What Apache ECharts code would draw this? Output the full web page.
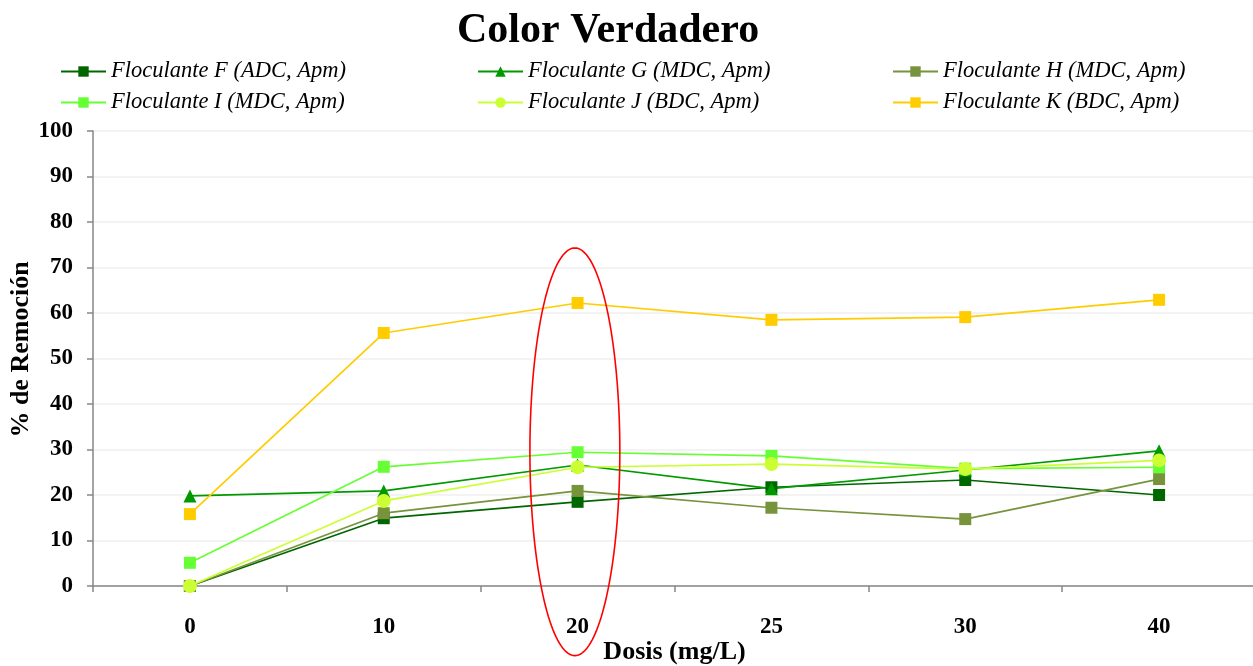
<!DOCTYPE html>
<html>
<head>
<meta charset="utf-8">
<script src="https://cdn.jsdelivr.net/npm/echarts@6/dist/echarts.min.js"></script>
<style>
  html, body { margin: 0; padding: 0; background: #fff; }
  #chart { width: 1253px; height: 666px; }
</style>
</head>
<body>
<div id="chart"></div>
<script>
// Dosis (mg/L)
const dosis = ['0', '10', '20', '25', '30', '40'];

// % de remoción de color verdadero por floculante
const flocF = [0, 14.9, 18.5, 21.7, 23.3, 20.0];
const flocG = [19.8, 20.9, 26.6, 21.4, 25.5, 29.7];
const flocH = [0, 16.0, 20.9, 17.2, 14.7, 23.5];
const flocI = [5.1, 26.2, 29.4, 28.6, 25.8, 26.1];
const flocJ = [0, 18.7, 26.1, 26.8, 25.7, 27.6];
const flocK = [15.8, 55.6, 62.2, 58.5, 59.1, 62.9];

const yTicks = [0, 10, 20, 30, 40, 50, 60, 70, 80, 90, 100];

const serif = '"Liberation Serif", "Times New Roman", serif';

function makeSeries(name, data, color, symbol, size) {
  return {
    name: name,
    type: 'line',
    data: data,
    symbol: symbol,
    symbolSize: size,
    showSymbol: true,
    lineStyle: { color: color, width: 1.7 },
    itemStyle: { color: color },
    emphasis: { disabled: true },
    z: 3
  };
}

const series = [
  makeSeries('Floculante F (ADC, Apm)', flocF, '#006600', 'rect', 12),
  makeSeries('Floculante G (MDC, Apm)', flocG, '#009900', 'triangle', 13),
  makeSeries('Floculante H (MDC, Apm)', flocH, '#77933C', 'rect', 12),
  makeSeries('Floculante I (MDC, Apm)', flocI, '#66FF33', 'rect', 12),
  makeSeries('Floculante J (BDC, Apm)', flocJ, '#CCFF33', 'circle', 14),
  makeSeries('Floculante K (BDC, Apm)', flocK, '#FFCC00', 'rect', 12)
];

function legendColumn(left, names) {
  return {
    data: names,
    left: left,
    top: 60,
    padding: 0,
    orient: 'vertical',
    itemWidth: 45,
    itemHeight: 13,
    itemGap: 8,
    selectedMode: false,
    textStyle: {
      fontFamily: serif,
      fontStyle: 'italic',
      fontSize: 22.5,
      color: '#000',
      lineHeight: 22
    }
  };
}

const chart = echarts.init(document.getElementById('chart'), null, { renderer: 'canvas' });

const option = {
  backgroundColor: '#fff',
  animation: false,
  title: {
    text: 'Color Verdadero',
    left: 457,
    top: 10,
    padding: 0,
    textStyle: { fontFamily: serif, fontWeight: 'bold', fontSize: 42, color: '#000' }
  },
  legend: [
    legendColumn(60, [series[0].name, series[3].name]),
    legendColumn(477, [series[1].name, series[4].name]),
    legendColumn(892, [series[2].name, series[5].name])
  ],
  grid: { left: 93, top: 131, width: 1163, height: 455, containLabel: false, outerBoundsMode: 'none' },
  xAxis: {
    type: 'category',
    data: dosis,
    boundaryGap: true,
    name: 'Dosis (mg/L)',
    nameLocation: 'middle',
    nameGap: 53,
    nameMoveOverlap: false,
    nameTextStyle: { fontFamily: serif, fontWeight: 'bold', fontSize: 26, color: '#000' },
    axisLine: { lineStyle: { color: '#868686', width: 1.5 } },
    axisTick: { show: true, alignWithLabel: false, length: 6, lineStyle: { color: '#868686', width: 1.5 } },
    axisLabel: { fontFamily: serif, fontWeight: 'bold', fontSize: 23, color: '#000', margin: 30 },
    splitLine: { show: false }
  },
  yAxis: {
    type: 'value',
    min: yTicks[0],
    max: yTicks[yTicks.length - 1],
    interval: 10,
    name: '% de Remoción',
    nameLocation: 'middle',
    nameGap: 59,
    nameMoveOverlap: false,
    nameTextStyle: { fontFamily: serif, fontWeight: 'bold', fontSize: 26, color: '#000', padding: [0, 0, 0, 18] },
    axisLine: { show: true, lineStyle: { color: '#868686', width: 1.5 } },
    axisTick: { show: true, length: 6, lineStyle: { color: '#868686', width: 1.5 } },
    axisLabel: { fontFamily: serif, fontWeight: 'bold', fontSize: 23, color: '#000', margin: 20 },
    splitLine: { show: true, lineStyle: { color: '#efefef', width: 1.5 } }
  },
  series: series
};

chart.setOption(option);

// Red ellipse highlighting the 20 mg/L dose, defined in axis units
const highlight = { category: '20', yCenter: 29.5, yRadius: 44.8, bandFraction: 0.232, bandShift: -0.014 };
(function drawHighlight() {
  const idx = dosis.indexOf(highlight.category);
  const c = chart.convertToPixel({ gridIndex: 0 }, [highlight.category, highlight.yCenter]);
  const top = chart.convertToPixel({ gridIndex: 0 }, [highlight.category, highlight.yCenter + highlight.yRadius]);
  const nextBand = chart.convertToPixel({ gridIndex: 0 }, [dosis[idx + 1], highlight.yCenter]);
  const band = nextBand[0] - c[0];
  const cx = c[0] + band * highlight.bandShift;
  const rx = band * highlight.bandFraction;
  const ry = c[1] - top[1];
  const pts = [];
  const n = 160;
  for (let i = 0; i < n; i++) {
    const t = (i / n) * Math.PI * 2;
    pts.push([cx + rx * Math.cos(t), c[1] + ry * Math.sin(t)]);
  }
  chart.setOption({
    graphic: [{
      type: 'polygon',
      shape: { points: pts },
      style: { fill: 'none', stroke: '#FF0000', lineWidth: 1.6 },
      z: 10,
      silent: true
    }]
  });
})();
</script>
</body>
</html>
